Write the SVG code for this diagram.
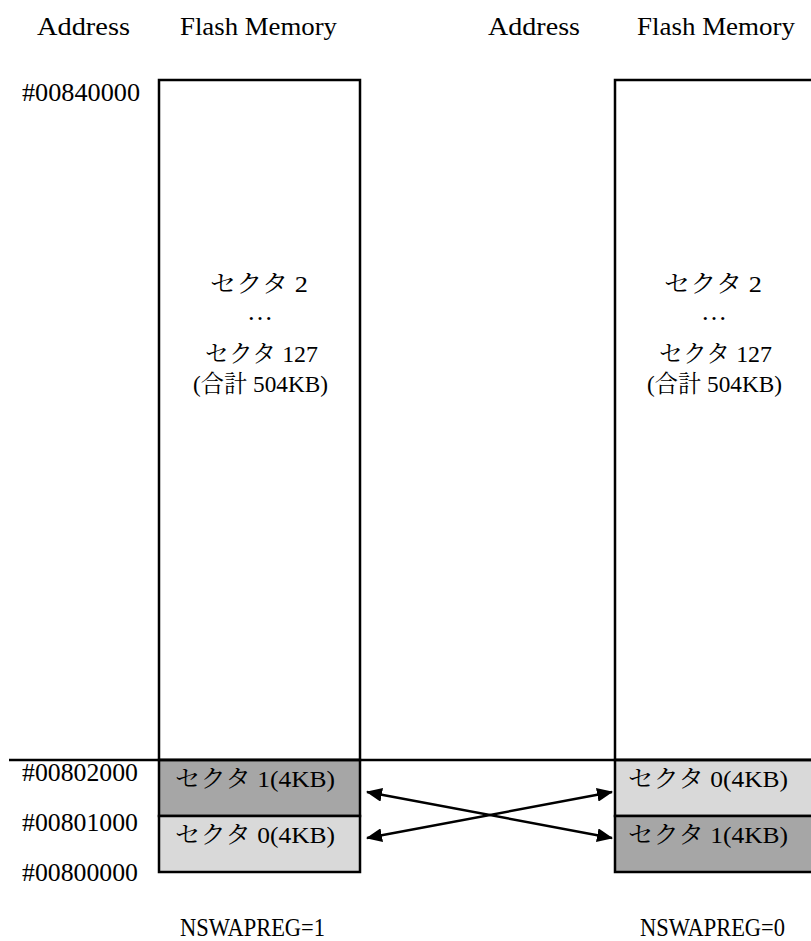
<svg xmlns="http://www.w3.org/2000/svg" width="811" height="941" viewBox="0 0 811 941">
<style>
text{font-family:"Liberation Serif","Noto Sans CJK JP",serif;font-size:26px;fill:#000}
.j{font-family:"Liberation Serif","Noto Serif CJK JP","Noto Sans CJK JP",serif;font-size:24px}
.box{fill:#fff;stroke:#000;stroke-width:2.5}
.dark{fill:#a6a6a6;stroke:#000;stroke-width:2.5}
.light{fill:#d9d9d9;stroke:#000;stroke-width:2.5}
.mid{text-anchor:middle}
.conn{stroke:#000;stroke-width:2.5;fill:none;marker-start:url(#ah);marker-end:url(#ah)}
</style>
<defs>
<marker id="ah" viewBox="0 0 16 14" refX="15" refY="7" markerWidth="16" markerHeight="14" orient="auto-start-reverse" markerUnits="userSpaceOnUse">
<path d="M0,0 L16,7 L0,14 z" fill="#000"/>
</marker>
</defs>
<rect width="811" height="941" fill="#fff"/>
<g id="headers">
<text x="37" y="35" textLength="93" lengthAdjust="spacingAndGlyphs">Address</text>
<text x="180" y="35" textLength="157" lengthAdjust="spacingAndGlyphs">Flash Memory</text>
<text x="488" y="35" textLength="92" lengthAdjust="spacingAndGlyphs">Address</text>
<text x="637" y="35" textLength="158" lengthAdjust="spacingAndGlyphs">Flash Memory</text>
</g>
<g id="addresses">
<text x="22" y="101" textLength="118" lengthAdjust="spacingAndGlyphs">#00840000</text>
<text x="22" y="781" textLength="116" lengthAdjust="spacingAndGlyphs">#00802000</text>
<text x="22" y="831" textLength="116" lengthAdjust="spacingAndGlyphs">#00801000</text>
<text x="22" y="881" textLength="116" lengthAdjust="spacingAndGlyphs">#00800000</text>
</g>
<g id="left-main">
<rect class="box" x="159" y="80" width="201" height="680"/>
<text class="j" x="210" y="292" textLength="98" lengthAdjust="spacingAndGlyphs">セクタ 2</text>
<text class="mid" x="260" y="320">…</text>
<text class="j" x="205" y="362" textLength="113" lengthAdjust="spacingAndGlyphs">セクタ 127</text>
<text class="j" x="193" y="392" textLength="135" lengthAdjust="spacingAndGlyphs">(合計 504KB)</text>
</g>
<g id="left-sector1">
<rect class="dark" x="159" y="760" width="201" height="56"/>
<text class="j" x="175" y="787" textLength="160" lengthAdjust="spacingAndGlyphs">セクタ 1(4KB)</text>
</g>
<g id="left-sector0">
<rect class="light" x="159" y="816" width="201" height="56"/>
<text class="j" x="175" y="843" textLength="160" lengthAdjust="spacingAndGlyphs">セクタ 0(4KB)</text>
</g>
<g id="right-main">
<rect class="box" x="615" y="80" width="205" height="680"/>
<text class="j" x="664" y="292" textLength="98" lengthAdjust="spacingAndGlyphs">セクタ 2</text>
<text class="mid" x="714" y="320">…</text>
<text class="j" x="659" y="362" textLength="113" lengthAdjust="spacingAndGlyphs">セクタ 127</text>
<text class="j" x="647" y="392" textLength="135" lengthAdjust="spacingAndGlyphs">(合計 504KB)</text>
</g>
<g id="right-sector0">
<rect class="light" x="615" y="760" width="205" height="56"/>
<text class="j" x="628" y="787" textLength="160" lengthAdjust="spacingAndGlyphs">セクタ 0(4KB)</text>
</g>
<g id="right-sector1">
<rect class="dark" x="615" y="816" width="205" height="56"/>
<text class="j" x="628" y="843" textLength="160" lengthAdjust="spacingAndGlyphs">セクタ 1(4KB)</text>
</g>
<g id="labels">
<text x="180" y="936" textLength="145" lengthAdjust="spacingAndGlyphs">NSWAPREG=1</text>
<text x="640" y="936" textLength="145" lengthAdjust="spacingAndGlyphs">NSWAPREG=0</text>
</g>
<g id="connectors">
<line x1="9" y1="760" x2="811" y2="760" stroke="#000" stroke-width="2.5"/>
<line class="conn" x1="367" y1="792" x2="612" y2="838"/>
<line class="conn" x1="367" y1="838" x2="612" y2="792"/>
</g>
</svg>
